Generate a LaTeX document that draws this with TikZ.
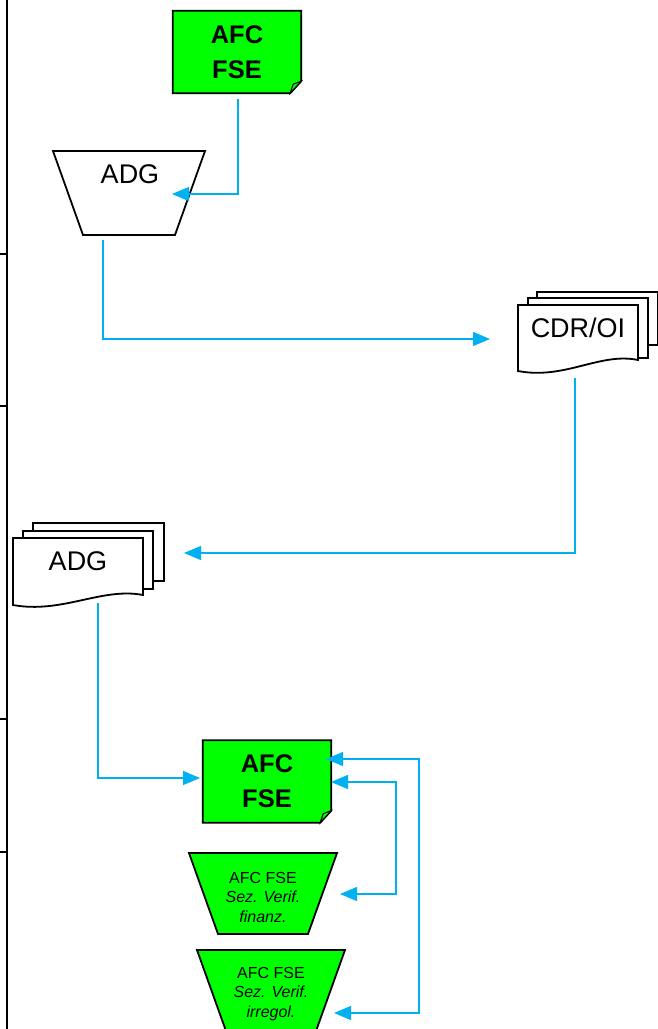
\documentclass[tikz,border=0pt]{standalone}
\usepackage{fontspec}
\setmainfont{Liberation Sans}
\usetikzlibrary{shapes,arrows.meta,backgrounds}
\definecolor{flowblue}{RGB}{0,176,240}
\definecolor{notegreen}{RGB}{0,255,0}
\tikzstyle{flowline} = [draw=flowblue, line width=1.2pt, -{Triangle[length=17pt,width=14pt]}]
\tikzstyle{twoway} = [flowline, {Triangle[length=17pt,width=14pt]}-{Triangle[length=17pt,width=14pt]}]
\tikzstyle{shapeline} = [draw=black, line width=1.8pt, line join=miter]
\tikzstyle{bigtext} = [font=\fontsize{25.5}{35}\selectfont\bfseries, align=center, inner sep=0pt]
\tikzstyle{midtext} = [font=\fontsize{27}{32}\selectfont, inner sep=0pt]
\tikzstyle{smalltext} = [font=\fontsize{16}{19.5}\selectfont, align=center, inner sep=0pt]
\tikzstyle{notebox} = [bigtext, minimum width=128pt, minimum height=82pt]

\begin{document}
\begin{tikzpicture}[x=1pt,y=-1pt]
		\useasboundingbox (0,0) rectangle (658,1029);
		
		% lane border
		\draw [line width=2.4pt] (7,0) -- (7,1029);
		\foreach \y in {254,406,719,852}
			\draw [line width=2pt] (0,\y) -- (7,\y);
		
		% notes
		\node [notebox] (afcTop) at (237,52) {AFC\\FSE};
		\node [notebox] (afcBot) at (267,781.5) {AFC\\FSE};
		\begin{scope}[on background layer]
			\foreach \n in {afcTop,afcBot} {
				\filldraw [shapeline, fill=notegreen] (\n.north west) -- (\n.north east)
					-- ([yshift=12pt]\n.south east) -- ([xshift=-11pt]\n.south east)
					-- (\n.south west) -- cycle;
				\filldraw [shapeline, line width=1pt, fill=notegreen] ([xshift=-11pt]\n.south east)
					-- ([xshift=-8pt,yshift=9pt]\n.south east) -- ([yshift=12pt]\n.south east) -- cycle;
			}
		\end{scope}
		
		% manual operations
		\filldraw [shapeline, fill=white] (53,151) -- (205,151) -- (175,235) -- (83,235) -- cycle;
		\node [midtext] (adgTop) at (130,174) {ADG};
		
		\filldraw [shapeline, fill=notegreen] (189,853) -- (337,853) -- (308,934) -- (218,934) -- cycle;
		\node [smalltext] (verFin) at (263,897) {AFC FSE\\\textit{Sez. Verif.}\\\textit{finanz.}};
		
		\filldraw [shapeline, fill=notegreen] (197,950) -- (345,950) -- (316,1031) -- (226,1031) -- cycle;
		\node [smalltext] (verIrr) at (271,994) {AFC FSE\\\textit{Sez. Verif.}\\\textit{irregol.}};
		
		% documents
		\filldraw [shapeline, fill=white] (537,292) rectangle (658,345);
		\filldraw [shapeline, fill=white] (528,298) rectangle (648,358);
		\filldraw [shapeline, fill=white] (518,305) -- (638,305) -- (638,360)
			.. controls (600,352) and (565,380) .. (518,371) -- cycle;
		\node [midtext] (cdr) at (578,328) {CDR/OI};
		
		\filldraw [shapeline, fill=white] (33,523) rectangle (164,581);
		\filldraw [shapeline, fill=white] (23,531) rectangle (153,589);
		\filldraw [shapeline, fill=white] (13,538) -- (143,538) -- (143,595)
			.. controls (102,587) and (62,614) .. (13,605) -- cycle;
		\node [midtext] (adgDoc) at (78,561) {ADG};
		
		% connector ends
		\coordinate (afcTopOut) at (238,99);
		\coordinate (adgTopIn) at (172,194);
		\coordinate (adgTopOut) at (103,240);
		\coordinate (cdrIn) at (490,339);
		\coordinate (cdrOut) at (575,378);
		\coordinate (adgDocIn) at (184,553);
		\coordinate (adgDocOut) at (98,603);
		\coordinate (afcBotIn) at (200,778);
		\coordinate (afcBotInA) at (331,782);
		\coordinate (afcBotInB) at (326,759);
		\coordinate (verFinIn) at (340,894);
		\coordinate (verIrrIn) at (334,1013);
		\coordinate (loopA) at (396,894);
		\coordinate (loopB) at (419,1013);
		
		\draw [flowline] (afcTopOut) |- (adgTopIn);
		\draw [flowline] (adgTopOut) |- (cdrIn);
		\draw [flowline] (cdrOut) |- (adgDocIn);
		\draw [flowline] (adgDocOut) |- (afcBotIn);
		\draw [twoway] (afcBotInA) -| (loopA) -- (verFinIn);
		\draw [twoway] (afcBotInB) -| (loopB) -- (verIrrIn);
		
\end{tikzpicture}
\end{document}
